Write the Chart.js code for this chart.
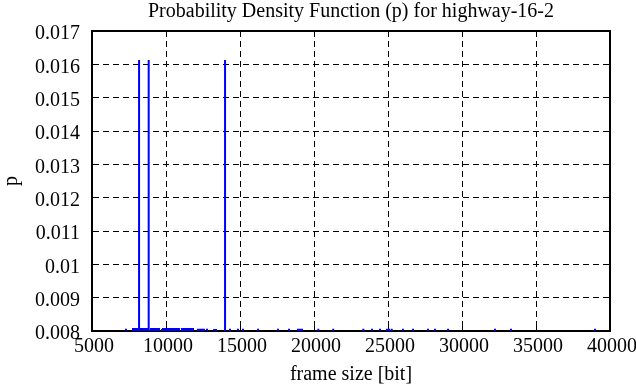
<!DOCTYPE html>
<html>
<head>
<meta charset="utf-8">
<script src="https://cdn.jsdelivr.net/npm/chart.js@4.4.1/dist/chart.umd.min.js"></script>
<style>
  html, body { margin: 0; padding: 0; background: #ffffff; }
  canvas { display: block; }
</style>
</head>
<body>
<canvas id="c" width="636" height="387"></canvas>
<script>
// ---- data ----
const chartTitle = 'Probability Density Function (p) for highway-16-2';
const xTitle = 'frame size [bit]';
const yTitle = 'p';

const xTickValues = [5000, 10000, 15000, 20000, 25000, 30000, 35000, 40000];
const xTickLabels = ['5000', '10000', '15000', '20000', '25000', '30000', '35000', '40000'];
const yTickValues = [0.008, 0.009, 0.010, 0.011, 0.012, 0.013, 0.014, 0.015, 0.016, 0.017];
const yTickLabels = ['0.008', '0.009', '0.01', '0.011', '0.012', '0.013', '0.014', '0.015', '0.016', '0.017'];

// tall impulses
const peakSizes = [8180, 8830, 13990];
const peakP = [0.01613, 0.01613, 0.01613];

// small impulses just above the bottom of the visible range
const lowSizes = [7297, 7770, 7905, 8040, 8310, 8445, 8580, 8715, 8985, 9120, 9255, 9390, 9530,
  9730, 9800, 9935, 10070, 10205, 10340, 10475, 10610, 10745, 10880, 11080,
  11150, 11285, 11420, 11555, 11690, 11825, 12160, 12300, 12430, 12565, 12770,
  13250, 13380, 14325, 14865, 15200, 16220, 17570, 18310, 18920, 19060, 19190,
  20290, 21300, 23330, 23920, 24460, 24930, 25070, 25250, 26010, 26690, 27700,
  28180, 29060, 32230, 33310, 38990];
const lowP = [0.00807, 0.00809, 0.00809, 0.00809, 0.00809, 0.00809, 0.00809, 0.00809, 0.00809, 0.00809, 0.00809, 0.00809, 0.00809,
  0.00806, 0.00809, 0.00809, 0.00809, 0.00809, 0.00809, 0.00809, 0.00809, 0.00809, 0.00809, 0.00809,
  0.00809, 0.00809, 0.00809, 0.00809, 0.00809, 0.00809, 0.00807, 0.00807, 0.00807, 0.00807, 0.00807,
  0.00806, 0.00806, 0.00807, 0.00807, 0.00807, 0.00807, 0.00807, 0.00807, 0.00807, 0.00807, 0.00807,
  0.00807, 0.00807, 0.00807, 0.00807, 0.00807, 0.00807, 0.00807, 0.00807, 0.00807, 0.00807, 0.00807,
  0.00807, 0.00807, 0.00807, 0.00807, 0.00807];

// ---- build impulse segments ----
const xMin = xTickValues[0], xMax = xTickValues[xTickValues.length - 1];
const yMin = yTickValues[0], yMax = yTickValues[yTickValues.length - 1];
const allSizes = lowSizes.concat(peakSizes);
const allP = lowP.concat(peakP);
const impulses = [];
allSizes.forEach((s, i) => {
  impulses.push({x: s, y: yMin}, {x: s, y: allP[i]}, {x: s, y: null});
});

const FONT = 'Liberation Serif, Times New Roman, serif';
const dash = [6, 4];
const noPad = s => { s.paddingLeft = 0; s.paddingRight = 0; s.paddingTop = 0; s.paddingBottom = 0; };

new Chart(document.getElementById('c'), {
  type: 'line',
  data: {
    datasets: [{
      data: impulses,
      borderColor: '#0000ff',
      borderWidth: 2,
      pointRadius: 0,
      tension: 0,
      fill: false,
      spanGaps: false,
      clip: 0
    }]
  },
  options: {
    responsive: false,
    animation: false,
    devicePixelRatio: 1,
    layout: { padding: 0 },
    plugins: { legend: { display: false }, tooltip: { enabled: false }, title: { display: false } },
    scales: {
      x: {
        type: 'linear', position: 'bottom', min: xMin, max: xMax,
        afterBuildTicks: s => { s.ticks = xTickValues.map(v => ({value: v})); },
        afterFit: s => { s.height = 56; noPad(s); },
        ticks: {
          callback: (v, i) => xTickLabels[i],
          font: { family: FONT, size: 20 }, color: '#000', padding: 10, maxRotation: 0, autoSkip: false, labelOffset: 2
        },
        grid: { color: '#000', lineWidth: 1, drawTicks: true, tickLength: -6, tickColor: '#000', tickWidth: 1, tickBorderDash: [] },
        border: { display: true, color: '#000', width: 2, dash: dash },
        title: { display: true, text: xTitle, font: { family: FONT, size: 20 }, color: '#000', padding: { top: 0, bottom: 0 } }
      },
      x2: {
        type: 'linear', position: 'top', min: xMin, max: xMax,
        afterBuildTicks: s => { s.ticks = xTickValues.map(v => ({value: v})); },
        afterFit: s => { s.height = 31; noPad(s); },
        ticks: { display: false },
        grid: { drawOnChartArea: false, color: '#000', drawTicks: true, tickLength: -6, tickColor: '#000', tickWidth: 1, tickBorderDash: [] },
        border: { display: true, color: '#000', width: 2 },
        title: { display: true, text: chartTitle, font: { family: FONT, size: 20 }, color: '#000', padding: { top: 0, bottom: 0 } }
      },
      y: {
        type: 'linear', position: 'left', min: yMin, max: yMax,
        afterBuildTicks: s => { s.ticks = yTickValues.map(v => ({value: v})); },
        afterFit: s => { s.width = 92; noPad(s); },
        ticks: {
          callback: (v, i) => yTickLabels[i],
          font: { family: FONT, size: 20 }, color: '#000', padding: 18, autoSkip: false, labelOffset: 3
        },
        grid: { color: '#000', lineWidth: 1, drawTicks: true, tickLength: -6, tickColor: '#000', tickWidth: 1, tickBorderDash: [] },
        border: { display: true, color: '#000', width: 2, dash: dash },
        title: { display: true, text: yTitle, font: { family: FONT, size: 20 }, color: '#000', padding: { top: 0, bottom: 0 } }
      },
      y2: {
        type: 'linear', position: 'right', min: yMin, max: yMax,
        afterBuildTicks: s => { s.ticks = yTickValues.map(v => ({value: v})); },
        afterFit: s => { s.width = 26; noPad(s); },
        ticks: { display: false },
        grid: { drawOnChartArea: false, color: '#000', drawTicks: true, tickLength: -6, tickColor: '#000', tickWidth: 1, tickBorderDash: [] },
        border: { display: true, color: '#000', width: 2 }
      }
    }
  }
});
</script>
</body>
</html>
